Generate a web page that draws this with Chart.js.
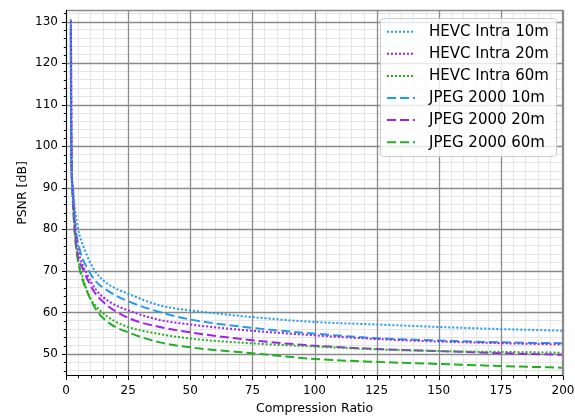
<!DOCTYPE html>
<html><head><meta charset="utf-8">
<script src="https://cdn.jsdelivr.net/npm/chart.js@4/dist/chart.umd.min.js"></script>
<style>html,body{margin:0;padding:0;background:#fff;}#wrap{width:575px;height:416px;position:relative;}</style>
</head><body><div id="wrap"><canvas id="c" width="575" height="416"></canvas></div>
<script>
// ---- data ----
const seriesNames = ['HEVC Intra 10m', 'HEVC Intra 20m', 'HEVC Intra 60m', 'JPEG 2000 10m', 'JPEG 2000 20m', 'JPEG 2000 60m'];

const ratioHevc10 = [1.9, 2.1, 2.8, 3.6, 4.9, 7.6, 11, 15, 19, 25, 37.7, 50, 64.5, 76.5, 100, 125, 150, 175, 200];
const psnrHevc10  = [130.6, 100, 90, 85, 80, 75, 70.6, 67.7, 66.1, 64.5, 61.7, 60.5, 59.5, 58.8, 57.7, 57.1, 56.5, 56.0, 55.6];

const ratioHevc20 = [2.0, 2.2, 2.7, 3.8, 4.95, 8.3, 12.3, 17.7, 25, 37.7, 50, 76.5, 100, 125, 150, 175, 200];
const psnrHevc20  = [130.2, 100, 90, 80, 75, 69.4, 65.3, 62.5, 60.5, 58.2, 57.1, 55.5, 54.5, 53.6, 53.0, 52.6, 52.3];

const ratioHevc60 = [2.0, 2.2, 2.6, 3.6, 4.3, 6.3, 9.6, 13.7, 19, 25, 37.7, 50, 76.5, 100, 125, 150, 175, 200];
const psnrHevc60  = [128.5, 100, 90, 80, 75, 69.4, 63.7, 60.5, 58.1, 56.5, 54.8, 53.7, 52.5, 51.8, 51.1, 50.7, 50.5, 50.3];

const ratioJpeg10 = [1.9, 2.1, 2.6, 3.5, 5.6, 9, 12.3, 17.7, 25, 37.7, 50, 76.5, 100, 125, 150, 175, 200];
const psnrJpeg10  = [129, 100, 90, 82, 75, 70.2, 67.3, 64.9, 62.7, 60.1, 58.3, 56.2, 54.9, 53.8, 53.25, 52.8, 52.6];

const ratioJpeg20 = [2.0, 2.2, 2.6, 3.5, 4.3, 7, 11, 15, 25, 37.7, 50, 76.5, 100, 125, 150, 175, 200];
const psnrJpeg20  = [128, 100, 90, 80, 75, 70.2, 65.3, 62.5, 58.7, 56.5, 55.2, 53.2, 52.0, 51.2, 50.7, 50.2, 49.8];

const ratioJpeg60 = [1.9, 2.1, 2.5, 3.4, 4.2, 5.6, 8.3, 12.3, 17.7, 25, 37.7, 50, 76.5, 100, 125, 150, 175, 200];
const psnrJpeg60  = [127.5, 100, 90, 80, 75, 70.2, 65.3, 60.5, 57.3, 55.2, 52.8, 51.6, 50.1, 48.8, 48.1, 47.6, 47.1, 46.7];

const xTickLabels = [0, 25, 50, 75, 100, 125, 150, 175, 200];
const yTickLabels = [50, 60, 70, 80, 90, 100, 110, 120, 130];
const xTitle = 'Compression Ratio';
const yTitle = 'PSNR [dB]';

// ---- styles ----
const BLUE = '#1f9bf0', PURPLE = '#a020f0', GREEN = '#22b022';
const seriesColors = [BLUE, PURPLE, GREEN, BLUE, PURPLE, GREEN];
const DOT = [2, 2], DASH = [9, 4];
const seriesDash = [DOT, DOT, DOT, DASH, DASH, DASH];
const seriesWidth = [2, 2, 2, 2, 2, 2];
const FONT = "'DejaVu Sans', sans-serif";

const ratios = [ratioHevc10, ratioHevc20, ratioHevc60, ratioJpeg10, ratioJpeg20, ratioJpeg60];
const psnrs = [psnrHevc10, psnrHevc20, psnrHevc60, psnrJpeg10, psnrJpeg20, psnrJpeg60];

const datasets = seriesNames.map((name, i) => ({
  label: name,
  data: ratios[i].map((r, k) => ({x: r, y: psnrs[i][k]})),
  borderColor: seriesColors[i],
  backgroundColor: seriesColors[i],
  borderDash: seriesDash[i],
  borderWidth: seriesWidth[i],
  pointRadius: 0,
  fill: false,
  cubicInterpolationMode: 'monotone',
  borderCapStyle: 'butt'
}));

const MAJOR = '#8a8a8a', MINOR = '#e4e4e4';
const isMult = (v, m) => Math.abs(v / m - Math.round(v / m)) < 1e-6;

const decor = {
  id: 'decor',
  beforeDatasetsDraw(chart) {
    // major grid lines drawn over the minor ones
    const ctx = chart.ctx, a = chart.chartArea;
    const xs = chart.scales.x, ys = chart.scales.y;
    ctx.save();
    ctx.strokeStyle = MAJOR;
    ctx.lineWidth = 1.3;
    ctx.beginPath();
    xs.ticks.forEach(t => {
      if (!isMult(t.value, 25)) return;
      const px = Math.round(xs.getPixelForValue(t.value)) + 0.5;
      ctx.moveTo(px, a.top); ctx.lineTo(px, a.bottom);
    });
    ys.ticks.forEach(t => {
      if (!isMult(t.value, 10)) return;
      const py = Math.round(ys.getPixelForValue(t.value)) + 0.5;
      ctx.moveTo(a.left, py); ctx.lineTo(a.right, py);
    });
    ctx.stroke();
    ctx.restore();
  },
  afterDatasetsDraw(chart) {
    const ctx = chart.ctx, a = chart.chartArea;
    const xs = chart.scales.x, ys = chart.scales.y;
    ctx.save();
    // spines
    ctx.lineWidth = 1.3;
    ctx.strokeStyle = MAJOR;
    ctx.beginPath();
    ctx.moveTo(a.left, a.top + 0.5); ctx.lineTo(a.right, a.top + 0.5);
    ctx.moveTo(a.right - 0.5, a.top); ctx.lineTo(a.right - 0.5, a.bottom);
    ctx.stroke();
    ctx.lineWidth = 1;
    ctx.strokeStyle = '#000';
    ctx.beginPath();
    ctx.moveTo(a.left + 0.5, a.top); ctx.lineTo(a.left + 0.5, a.bottom + 0.5);
    ctx.moveTo(a.left, a.bottom - 0.5); ctx.lineTo(a.right, a.bottom - 0.5);
    ctx.stroke();
    // tick marks
    ctx.beginPath();
    xs.ticks.forEach(t => {
      const px = Math.round(xs.getPixelForValue(t.value)) + 0.5;
      const len = isMult(t.value, 25) ? 4 : 2.2;
      ctx.moveTo(px, a.bottom); ctx.lineTo(px, a.bottom + len);
    });
    ys.ticks.forEach(t => {
      const py = Math.round(ys.getPixelForValue(t.value)) + 0.5;
      const len = isMult(t.value, 10) ? 4 : 2.2;
      ctx.moveTo(a.left, py); ctx.lineTo(a.left - len, py);
    });
    ctx.stroke();
    // legend
    const bx = 380.5, by = 18.5, bw = 176, bh = 138, r = 3;
    ctx.beginPath();
    ctx.moveTo(bx + r, by);
    ctx.arcTo(bx + bw, by, bx + bw, by + bh, r);
    ctx.arcTo(bx + bw, by + bh, bx, by + bh, r);
    ctx.arcTo(bx, by + bh, bx, by, r);
    ctx.arcTo(bx, by, bx + bw, by, r);
    ctx.closePath();
    ctx.fillStyle = 'rgba(255,255,255,0.8)';
    ctx.fill();
    ctx.strokeStyle = '#cccccc';
    ctx.lineWidth = 1;
    ctx.stroke();
    ctx.font = '15px ' + FONT;
    ctx.textBaseline = 'middle';
    ctx.textAlign = 'left';
    chart.data.datasets.forEach((d, i) => {
      const y = 31.7 + i * 22.1;
      ctx.beginPath();
      ctx.setLineDash(d.borderDash);
      ctx.lineWidth = d.borderWidth;
      ctx.strokeStyle = d.borderColor;
      ctx.moveTo(387, y); ctx.lineTo(415, y);
      ctx.stroke();
      ctx.setLineDash([]);
      ctx.fillStyle = '#000';
      ctx.fillText(d.label, 429, y + 0.5);
    });
    ctx.restore();
  }
};

new Chart(document.getElementById('c'), {
  type: 'line',
  data: {datasets},
  options: {
    responsive: false,
    devicePixelRatio: 1,
    animation: false,
    layout: {padding: {top: 10, right: 12, left: 0, bottom: 0}},
    plugins: {legend: {display: false}, tooltip: {enabled: false}},
    scales: {
      x: {
        type: 'linear', min: 0, max: 200,
        afterFit: s => { s.height = 40; s.paddingLeft = 0; s.paddingRight = 0; },
        border: {display: false},
        grid: {
          drawTicks: false,
          color: c => (c.tick && isMult(c.tick.value, 25)) ? 'rgba(0,0,0,0)' : MINOR,
          lineWidth: 1
        },
        ticks: {
          stepSize: 5, autoSkip: false, maxRotation: 0, padding: 8,
          color: '#000', font: {family: FONT, size: 12},
          callback: v => xTickLabels.includes(v) ? String(v) : ''
        },
        title: {display: true, text: xTitle, color: '#000', font: {family: FONT, size: 12.5}, padding: {top: 0, bottom: 0}}
      },
      y: {
        type: 'linear', min: 44.7, max: 132.8,
        afterFit: s => { s.width = 66; s.paddingTop = 0; s.paddingBottom = 0; },
        border: {display: false},
        grid: {
          drawTicks: false,
          color: c => (c.tick && isMult(c.tick.value, 10)) ? 'rgba(0,0,0,0)' : MINOR,
          lineWidth: 1
        },
        ticks: {
          stepSize: 2, includeBounds: false, autoSkip: false, padding: 8,
          color: '#000', font: {family: FONT, size: 12},
          callback: v => yTickLabels.includes(Math.round(v)) && isMult(v, 10) ? String(Math.round(v)) : ''
        },
        title: {display: true, text: yTitle, color: '#000', font: {family: FONT, size: 12.5}, padding: {top: 15, bottom: 0}}
      }
    }
  },
  plugins: [decor]
});
</script>
</body></html>
